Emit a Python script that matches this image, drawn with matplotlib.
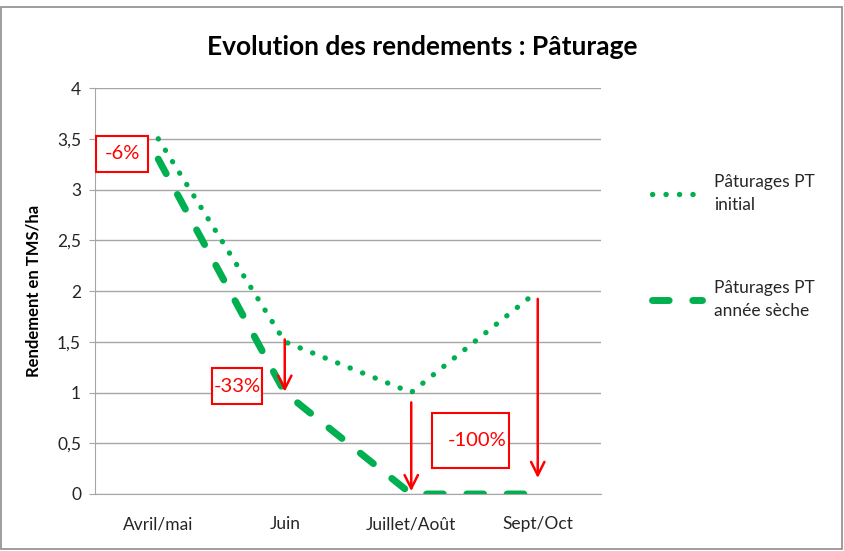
import matplotlib
matplotlib.use("Agg")
import matplotlib.pyplot as plt
from matplotlib.patches import Rectangle

categories = ["Avril/mai", "Juin", "Juillet/Août", "Sept/Oct"]
initial = [3.5, 1.5, 1.0, 2.0]
seche = [3.3, 1.0, 0.0, 0.0]
labels = ["Pâturages PT\ninitial", "Pâturages PT\nannée sèche"]
yticks = [0, 0.5, 1, 1.5, 2, 2.5, 3, 3.5, 4]
ytick_labels = ["0", "0,5", "1", "1,5", "2", "2,5", "3", "3,5", "4"]
pct_labels = ["-6%", "-33%", "-100%"]

plt.rcParams['font.family'] = ['Lato', 'DejaVu Sans']
green = "#00B050"
red = "#FF0000"

fig = plt.figure(figsize=(8.45, 5.51), dpi=100)
fig.patches.append(Rectangle((0.001, 0.003), 0.996, 0.985, transform=fig.transFigure,
                             fill=False, edgecolor="#8c8c8c", linewidth=1.2))
ax = fig.add_axes([95/845, 57/551, 506/845, 406/551])
x = list(range(len(categories)))

ax.plot(x, initial, color=green, linewidth=3.8, linestyle=(0, (0.05, 2.5)),
        dash_capstyle='round', label=labels[0])
ax.plot(x, seche, color=green, linewidth=5, linestyle=(0, (2.4, 3.4)),
        dash_capstyle='round', label=labels[1])

ax.set_xlim(-0.5, 3.5)
ax.set_ylim(0, 4)
ax.set_xticks(x)
ax.set_xticklabels(categories, fontsize=12.5, color="#262626")
ax.set_yticks(yticks)
ax.set_yticklabels(ytick_labels, fontsize=12.5, color="#262626")
ax.grid(axis='y', color="#a6a6a6", linewidth=1)
ax.set_axisbelow(True)
for s in ['top', 'right']:
    ax.spines[s].set_visible(False)
for s in ['left', 'bottom']:
    ax.spines[s].set_color("#a6a6a6")
ax.tick_params(axis='x', length=0, pad=16)
ax.tick_params(axis='y', length=4, color="#a6a6a6", pad=6)
ax.set_ylabel("Rendement en TMS/ha", fontsize=12, fontweight='bold', labelpad=11)

fig.text(0.5, 1 - 47/551, "Evolution des rendements : Pâturage", fontsize=19,
         fontweight='bold', ha='center', va='center')

# arrows
arrow_kw = dict(arrowstyle="->", color=red, lw=1.8, mutation_scale=24)
ax.annotate("", xy=(1, 0.98), xytext=(1, 1.55), arrowprops=arrow_kw)
ax.annotate("", xy=(2, 0.0), xytext=(2, 0.93), arrowprops=arrow_kw)
ax.annotate("", xy=(3, 0.13), xytext=(3, 1.95), arrowprops=arrow_kw)

# boxes
def box(xc, yc, w, h, txt, tx=None):
    ax.add_patch(Rectangle((xc - w/2, yc - h/2), w, h, fill=True, facecolor='white',
                           edgecolor=red, linewidth=1.5, zorder=5))
    ax.text(xc if tx is None else tx, yc, txt, color=red, fontsize=14.5,
            ha='center', va='center', zorder=6)

box(-0.285, 3.35, 52/126.5, 36/101.5, pct_labels[0])
box(0.625, 1.06, 50/126.5, 36/101.5, pct_labels[1])
box(2.47, 0.53, 77/126.5, 55/101.5, pct_labels[2], tx=2.52)

leg = ax.legend(loc='upper left', bbox_to_anchor=(636/845, 1 - 158/551),
                bbox_transform=fig.transFigure, frameon=False, fontsize=12.5,
                handlelength=2.9, labelspacing=3.85, handletextpad=0.7)
for t in leg.get_texts():
    t.set_color("#262626")
    t.set_linespacing(1.55)

fig.savefig("out.png", dpi=100)
